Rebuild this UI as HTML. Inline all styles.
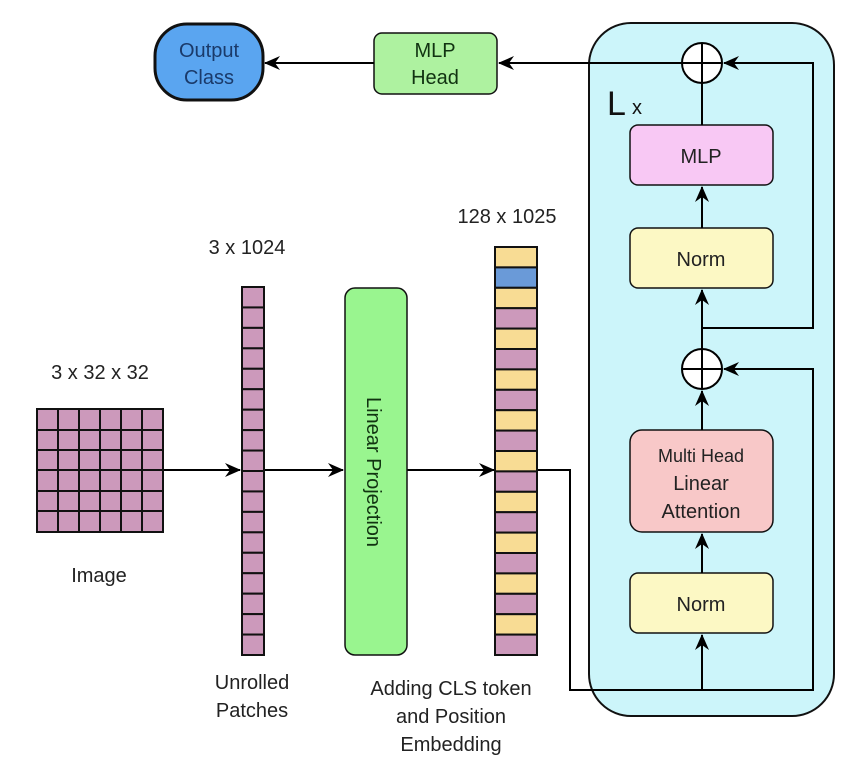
<!DOCTYPE html>
<html><head><meta charset="utf-8"><style>
html,body{margin:0;padding:0;background:#fff;}
svg{display:block;}
text{font-family:"Liberation Sans",sans-serif;}
</style></head><body>
<svg width="852" height="773" viewBox="0 0 852 773" xmlns="http://www.w3.org/2000/svg">
<defs>
<marker id="a" markerWidth="16" markerHeight="14" refX="15" refY="7" orient="auto" markerUnits="userSpaceOnUse">
<path d="M0,0 L16,7 L0,14 L5,7 Z" fill="#000"/>
</marker>
</defs>
<rect x="589" y="23" width="245" height="693" rx="42" fill="#ccf5fa" stroke="#111" stroke-width="2"/>

<rect x="155" y="24" width="108" height="76" rx="32" fill="#5aa5f0" stroke="#111" stroke-width="3"/>
<text x="209" y="57" font-size="20" text-anchor="middle" fill="#1a3a6a">Output</text>
<text x="209" y="84" font-size="20" text-anchor="middle" fill="#1a3a6a">Class</text>

<rect x="374" y="33" width="123" height="61" rx="8" fill="#aef2a0" stroke="#111" stroke-width="1.5"/>
<text x="435" y="57" font-size="20" text-anchor="middle" fill="#113311">MLP</text>
<text x="435" y="84" font-size="20" text-anchor="middle" fill="#113311">Head</text>

<text x="607" y="115" font-size="34" fill="#111">L</text>
<text x="632" y="114" font-size="20" fill="#111">x</text>

<rect x="630" y="125" width="143" height="60" rx="8" fill="#f8c8f4" stroke="#111" stroke-width="1.5"/>
<text x="701" y="163" font-size="20" text-anchor="middle" fill="#222">MLP</text>
<rect x="630" y="228" width="143" height="60" rx="8" fill="#fcf8c4" stroke="#111" stroke-width="1.5"/>
<text x="701" y="266" font-size="20" text-anchor="middle" fill="#222">Norm</text>
<rect x="630" y="430" width="143" height="102" rx="12" fill="#f8c8c8" stroke="#111" stroke-width="1.5"/>
<text x="701" y="462" font-size="18" text-anchor="middle" fill="#222">Multi Head</text>
<text x="701" y="490" font-size="20" text-anchor="middle" fill="#222">Linear</text>
<text x="701" y="518" font-size="20" text-anchor="middle" fill="#222">Attention</text>
<rect x="630" y="573" width="143" height="60" rx="8" fill="#fcf8c4" stroke="#111" stroke-width="1.5"/>
<text x="701" y="611" font-size="20" text-anchor="middle" fill="#222">Norm</text>

<g stroke="#000" stroke-width="2" fill="none">
<circle cx="702" cy="63" r="20" fill="#fff"/>
<line x1="682" y1="63" x2="722" y2="63"/><line x1="702" y1="43" x2="702" y2="83"/>
<circle cx="702" cy="369" r="20" fill="#fff"/>
<line x1="682" y1="369" x2="722" y2="369"/><line x1="702" y1="349" x2="702" y2="389"/>
<line x1="682" y1="63" x2="499" y2="63" marker-end="url(#a)"/>
<line x1="374" y1="63" x2="265" y2="63" marker-end="url(#a)"/>
<line x1="702" y1="83" x2="702" y2="125"/>
<line x1="702" y1="228" x2="702" y2="187" marker-end="url(#a)"/>
<line x1="702" y1="349" x2="702" y2="290" marker-end="url(#a)"/>
<polyline points="702,328 813,328 813,63 724,63" marker-end="url(#a)"/>
<line x1="702" y1="430" x2="702" y2="391" marker-end="url(#a)"/>
<line x1="702" y1="573" x2="702" y2="534" marker-end="url(#a)"/>
<line x1="702" y1="690" x2="702" y2="635" marker-end="url(#a)"/>
<polyline points="537,470 570,470 570,690 813,690 813,369 724,369" marker-end="url(#a)"/>
<line x1="163" y1="470" x2="240" y2="470" marker-end="url(#a)"/>
<line x1="264" y1="470" x2="343" y2="470" marker-end="url(#a)"/>
<line x1="407" y1="470" x2="494" y2="470" marker-end="url(#a)"/>
</g>

<g stroke="#111" stroke-width="2">
<rect x="37" y="409" width="126" height="123" fill="#cc99bb"/>
<line x1="58" y1="409" x2="58" y2="532"/><line x1="79" y1="409" x2="79" y2="532"/><line x1="100" y1="409" x2="100" y2="532"/><line x1="121" y1="409" x2="121" y2="532"/><line x1="142" y1="409" x2="142" y2="532"/>
<line x1="37" y1="430" x2="163" y2="430"/><line x1="37" y1="450" x2="163" y2="450"/><line x1="37" y1="470" x2="163" y2="470"/><line x1="37" y1="491" x2="163" y2="491"/><line x1="37" y1="511" x2="163" y2="511"/>
</g>

<g stroke="#111" stroke-width="2" fill="#cc99bb" id="u"></g>
<rect x="345" y="288" width="62" height="367" rx="10" fill="#99f58f" stroke="#111" stroke-width="1.5"/>
<text transform="translate(367,472) rotate(90)" font-size="20" text-anchor="middle" fill="#113311">Linear Projection</text>
<g stroke="#111" stroke-width="2" id="t"></g>

<text x="100" y="379" font-size="20" text-anchor="middle" fill="#222">3 x 32 x 32</text>
<text x="247" y="254" font-size="20" text-anchor="middle" fill="#222">3 x 1024</text>
<text x="507" y="223" font-size="20" text-anchor="middle" fill="#222">128 x 1025</text>
<text x="99" y="582" font-size="20" text-anchor="middle" fill="#222">Image</text>
<text x="252" y="689" font-size="20" text-anchor="middle" fill="#222">Unrolled</text>
<text x="252" y="717" font-size="20" text-anchor="middle" fill="#222">Patches</text>
<text x="451" y="695" font-size="20" text-anchor="middle" fill="#222">Adding CLS token</text>
<text x="451" y="723" font-size="20" text-anchor="middle" fill="#222">and Position</text>
<text x="451" y="751" font-size="20" text-anchor="middle" fill="#222">Embedding</text>
</svg>
<script>
var ns="http://www.w3.org/2000/svg";
var u=document.getElementById("u");
for(var i=0;i<18;i++){var r=document.createElementNS(ns,"rect");var y0=287+i*368/18;r.setAttribute("x",242);r.setAttribute("y",y0);r.setAttribute("width",22);r.setAttribute("height",368/18);u.appendChild(r);}
var t=document.getElementById("t");
for(var i=0;i<20;i++){var r=document.createElementNS(ns,"rect");var h=408/20;r.setAttribute("x",495);r.setAttribute("y",247+i*h);r.setAttribute("width",42);r.setAttribute("height",h);
var c=(i==1)?"#6a9ad8":(i==0||i%2==0)?"#f8dc94":"#cc99bb";r.setAttribute("fill",c);t.appendChild(r);}
</script>
</body></html>
